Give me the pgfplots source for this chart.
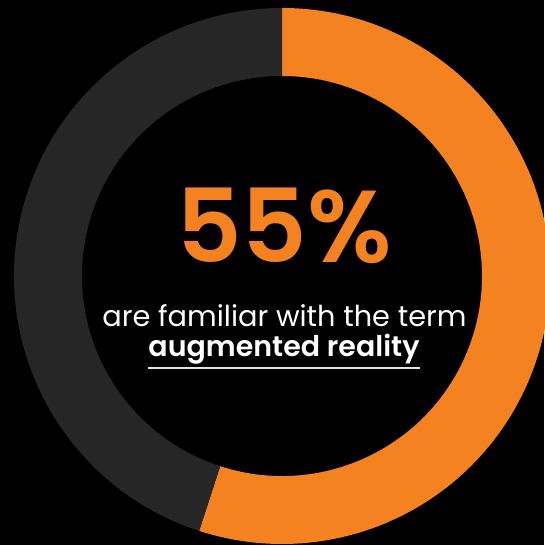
\documentclass[border=0pt]{standalone}
\usepackage{pgfplots}
\pgfplotsset{compat=1.18}
\usepackage{pgfplotstable}
\usepackage{fontspec}
\setmainfont{Poppins}
\newfontfamily\psemi{Poppins SemiBold}
\definecolor{orng}{HTML}{F58220}
\definecolor{dgray}{HTML}{262626}
\pgfplotstableread{
label value
familiar 55
other 45
}\donutdata
\begin{document}
\begin{tikzpicture}
\useasboundingbox (0,0) rectangle (544pt,545pt);
\fill[black] (0,0) rectangle (544pt,545pt);
\pgfplotstablegetelem{0}{value}\of\donutdata \edef\va{\pgfplotsretval}
\pgfplotstablegetelem{1}{value}\of\donutdata \edef\vb{\pgfplotsretval}
\pgfmathsetmacro\aA{90}
\pgfmathsetmacro\aB{90-3.6*\va}
\pgfmathsetmacro\aC{\aB-3.6*\vb}
\def\cx{282}\def\cy{269}\def\Ro{268}\def\Ri{200}
\begin{axis}[at={(0,0)},anchor=south west,width=544pt,height=545pt,
  scale only axis,xmin=0,xmax=544,ymin=0,ymax=545,hide axis,clip=false]
\fill[orng] (axis cs:{\cx+\Ro*cos(\aA)},{\cy+\Ro*sin(\aA)})
  arc[start angle=\aA,end angle=\aB,radius=\Ro pt]
  -- (axis cs:{\cx+\Ri*cos(\aB)},{\cy+\Ri*sin(\aB)})
  arc[start angle=\aB,end angle=\aA,radius=\Ri pt] -- cycle;
\fill[dgray] (axis cs:{\cx+\Ro*cos(\aB)},{\cy+\Ro*sin(\aB)})
  arc[start angle=\aB,end angle=\aC,radius=\Ro pt]
  -- (axis cs:{\cx+\Ri*cos(\aC)},{\cy+\Ri*sin(\aC)})
  arc[start angle=\aC,end angle=\aB,radius=\Ri pt] -- cycle;
\node[anchor=base,text=orng,inner sep=0pt,font=\psemi\fontsize{102}{102}\selectfont] at (axis cs:284,282) {\va\%};
\node[anchor=base,text=white,inner sep=0pt,font=\fontsize{28.8}{28.8}\selectfont] at (axis cs:284.5,218) {are familiar with the term};
\node[anchor=base,text=white,inner sep=0pt,font=\psemi\fontsize{28.5}{28.5}\selectfont] (ar) at (axis cs:284,188) {augmented reality};
\draw[line width=2pt,color=white!90!black] ([yshift=-3pt]ar.south west) -- ([yshift=-3pt]ar.south east);
\end{axis}
\end{tikzpicture}
\end{document}
